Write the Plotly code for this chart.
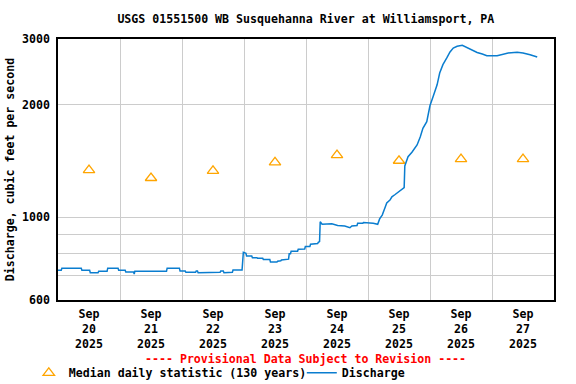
import plotly.graph_objects as go

# ---- data ----
median_dates = ["2025-09-20 12:00", "2025-09-21 12:00", "2025-09-22 12:00", "2025-09-23 12:00",
                "2025-09-24 12:00", "2025-09-25 12:00", "2025-09-26 12:00", "2025-09-27 12:00"]
median_values = [1337, 1273, 1330, 1402, 1466, 1416, 1430, 1430]

q_times = [
    "2025-09-20 00:00", "2025-09-20 01:15", "2025-09-20 01:30", "2025-09-20 09:00", "2025-09-20 09:15",
    "2025-09-20 12:15", "2025-09-20 12:30", "2025-09-20 15:30", "2025-09-20 15:45", "2025-09-20 19:00",
    "2025-09-20 19:15", "2025-09-20 23:15", "2025-09-20 23:30", "2025-09-21 02:00", "2025-09-21 02:15",
    "2025-09-21 05:15", "2025-09-21 05:30", "2025-09-21 05:45", "2025-09-21 18:00", "2025-09-21 18:15",
    "2025-09-21 23:00", "2025-09-21 23:15", "2025-09-22 01:15", "2025-09-22 01:30", "2025-09-22 05:15",
    "2025-09-22 05:30", "2025-09-22 06:00", "2025-09-22 06:15", "2025-09-22 14:45", "2025-09-22 15:00",
    "2025-09-22 16:00", "2025-09-22 16:15", "2025-09-22 19:30", "2025-09-22 19:45", "2025-09-22 23:15",
    "2025-09-22 23:45", "2025-09-23 00:45", "2025-09-23 01:00", "2025-09-23 03:00", "2025-09-23 03:15",
    "2025-09-23 05:00", "2025-09-23 05:15", "2025-09-23 07:15", "2025-09-23 07:30", "2025-09-23 10:00",
    "2025-09-23 10:15", "2025-09-23 12:45", "2025-09-23 13:00", "2025-09-23 14:15", "2025-09-23 14:30",
    "2025-09-23 17:15", "2025-09-23 17:30", "2025-09-23 18:00", "2025-09-23 18:15", "2025-09-23 20:45",
    "2025-09-23 21:00", "2025-09-23 23:30", "2025-09-23 23:45", "2025-09-24 01:30", "2025-09-24 01:45",
    "2025-09-24 04:30", "2025-09-24 04:45", "2025-09-24 05:15", "2025-09-24 05:30", "2025-09-24 06:15",
    "2025-09-24 10:00", "2025-09-24 12:15", "2025-09-24 15:00", "2025-09-24 17:00", "2025-09-24 17:45",
    "2025-09-24 19:45", "2025-09-24 20:00", "2025-09-24 22:00", "2025-09-24 22:15", "2025-09-25 02:00",
    "2025-09-25 03:00", "2025-09-25 03:45", "2025-09-25 04:30", "2025-09-25 05:30", "2025-09-25 06:30",
    "2025-09-25 07:15", "2025-09-25 08:30", "2025-09-25 09:15", "2025-09-25 10:30", "2025-09-25 12:30",
    "2025-09-25 13:30", "2025-09-25 14:00", "2025-09-25 14:15", "2025-09-25 15:30", "2025-09-25 17:00",
    "2025-09-25 19:00", "2025-09-25 20:15", "2025-09-25 21:15", "2025-09-25 22:45", "2025-09-26 00:00",
    "2025-09-26 01:15", "2025-09-26 02:45", "2025-09-26 03:45", "2025-09-26 05:00", "2025-09-26 06:30",
    "2025-09-26 07:45", "2025-09-26 09:00", "2025-09-26 10:30", "2025-09-26 12:30", "2025-09-26 14:15",
    "2025-09-26 16:15", "2025-09-26 18:15", "2025-09-26 20:15", "2025-09-26 22:00", "2025-09-27 02:00",
    "2025-09-27 03:45", "2025-09-27 06:15", "2025-09-27 09:45", "2025-09-27 12:00", "2025-09-27 14:45",
    "2025-09-27 16:45", "2025-09-27 17:30",
]
q_values = [
    721, 721, 730, 730, 721,
    721, 710, 710, 716, 716,
    730, 730, 721, 721, 713,
    713, 704, 716, 716, 730,
    730, 717, 717, 712, 712,
    717, 717, 710, 712, 717,
    717, 710, 712, 722, 722,
    805, 800, 787, 787, 779,
    779, 776, 776, 770, 770,
    758, 758, 762, 764, 768,
    772, 798, 798, 811, 811,
    820, 822, 834, 834, 846,
    850, 856, 860, 972, 957,
    960, 950, 947, 937, 947,
    950, 963, 963, 968, 963,
    957, 957, 989, 1013, 1056,
    1091, 1111, 1134, 1150, 1182,
    1195, 1200, 1371, 1452, 1492,
    1561, 1642, 1729, 1801, 1990,
    2107, 2262, 2432, 2561, 2669,
    2770, 2838, 2868, 2885, 2850,
    2797, 2760, 2735, 2707, 2707,
    2723, 2752, 2764, 2752, 2723,
    2697, 2685,
]

x_tick_vals = ["2025-09-20 12:00", "2025-09-21 12:00", "2025-09-22 12:00", "2025-09-23 12:00",
               "2025-09-24 12:00", "2025-09-25 12:00", "2025-09-26 12:00", "2025-09-27 12:00"]
x_tick_text = ["Sep<br>20<br>2025", "Sep<br>21<br>2025", "Sep<br>22<br>2025", "Sep<br>23<br>2025",
               "Sep<br>24<br>2025", "Sep<br>25<br>2025", "Sep<br>26<br>2025", "Sep<br>27<br>2025"]
y_tick_vals = [600, 700, 800, 900, 1000, 2000, 3000]
y_tick_text = ["600", "", "", "", "1000", "2000", "3000"]

FONT = "DejaVu Sans Mono"
FS = 11.6

fig = go.Figure()
fig.add_trace(go.Scatter(
    x=median_dates, y=median_values, mode="markers",
    name="Median daily statistic (130 years)",
    marker=dict(symbol="triangle-up-open", size=10, color="#FFA500", line=dict(width=1.3, color="#FFA500")),
    legendwidth=228,
))
fig.add_trace(go.Scatter(
    x=q_times, y=q_values, mode="lines", name="Discharge",
    line=dict(color="#0A7DCF", width=1.5),
))

fig.update_layout(
    width=576, height=384,
    margin=dict(l=58, r=22, t=39, b=84, autoexpand=False),
    paper_bgcolor="white", plot_bgcolor="white",
    font=dict(family=FONT, size=FS, color="black", weight="bold"),
    title=dict(text="USGS 01551500 WB Susquehanna River at Williamsport, PA",
               x=0.531, xanchor="center", y=0.95, yanchor="middle",
               font=dict(family=FONT, size=FS, color="black", weight="bold")),
    showlegend=True,
    legend=dict(orientation="h", xref="container", yref="container",
                x=0.05, xanchor="left", y=0.029, yanchor="middle",
                font=dict(family=FONT, size=FS, color="black", weight="bold"),
                itemclick=False, bgcolor="rgba(0,0,0,0)", tracegroupgap=0),
    annotations=[dict(text="---- Provisional Data Subject to Revision ----",
                      xref="paper", yref="paper", x=0.499, y=-0.226, xanchor="center", yanchor="middle",
                      showarrow=False, font=dict(family=FONT, size=FS, color="red", weight="bold"))],
)

fig.update_xaxes(
    type="date", range=["2025-09-20 00:00", "2025-09-28 00:00"],
    tickmode="array", tickvals=x_tick_vals, ticktext=x_tick_text,
    showgrid=False, ticks="", tickangle=0, automargin=False, ticklabelstandoff=2,
    minor=dict(tickmode="linear", tick0="2025-09-20", dtick=86400000, showgrid=True,
               gridcolor="#CCCCCC", gridwidth=1, ticks=""),
    showline=True, linecolor="black", linewidth=1.5, mirror=True,
    zeroline=False,
)
fig.update_yaxes(
    type="log", range=[2.778151, 3.477121],
    tickmode="array", tickvals=y_tick_vals, ticktext=y_tick_text,
    showgrid=True, gridcolor="#CCCCCC", gridwidth=1, ticks="",
    ticklabelstandoff=4, automargin=False,
    showline=True, linecolor="black", linewidth=1.5, mirror=True,
    zeroline=False,
    title=dict(text="Discharge, cubic feet per second", standoff=5,
               font=dict(family=FONT, size=FS, color="black", weight="bold")),
)

fig.write_html("out.html", config={"displayModeBar": False},
               post_script="document.body.style.margin='0';")
